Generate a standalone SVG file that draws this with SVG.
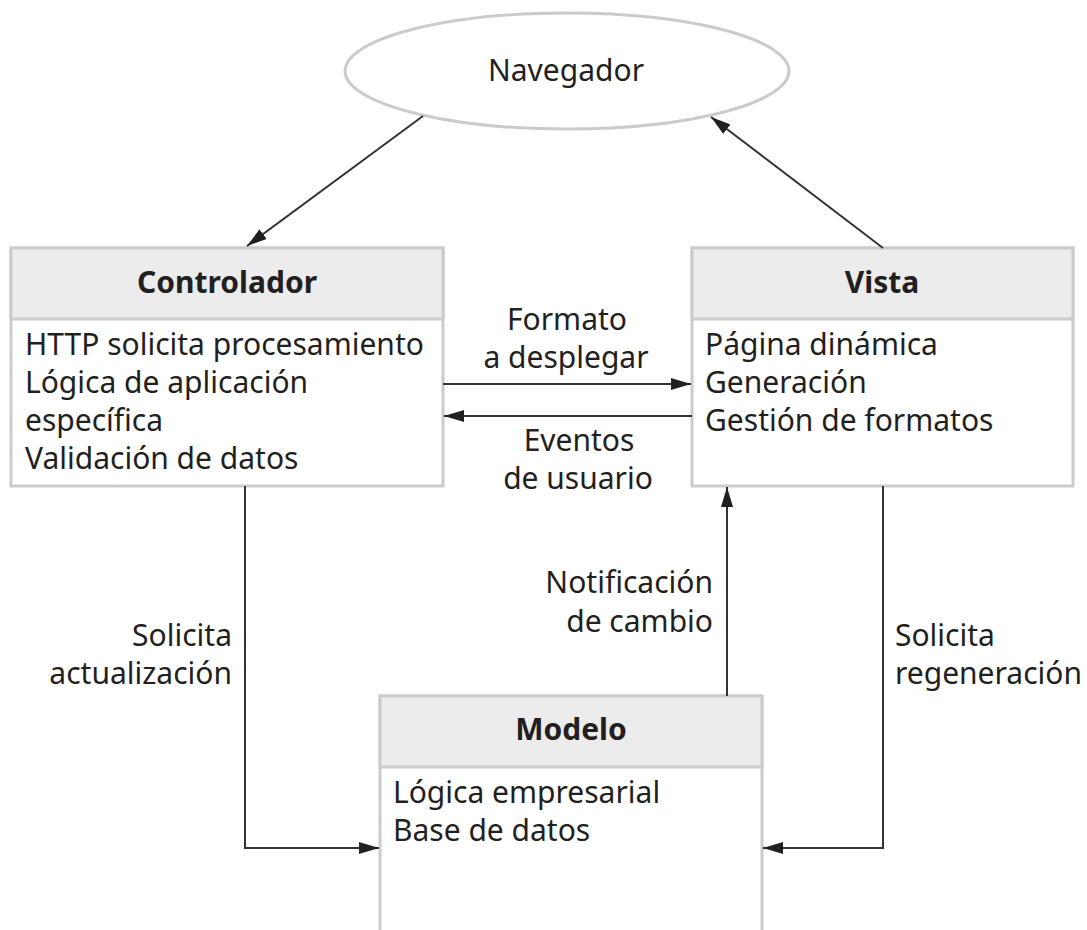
<svg xmlns="http://www.w3.org/2000/svg" width="1087" height="930" viewBox="0 0 1087 930">
<style>
  .box { fill: #ffffff; stroke: #cbcbcb; stroke-width: 3; }
  .hdr { fill: #ececec; stroke: #cbcbcb; stroke-width: 3; }
  .t { font-family: "Noto Sans", "Open Sans", sans-serif; font-size: 30px; fill: #231f20; }
  .b { font-weight: bold; }
  .c { text-anchor: middle; }
  .e { text-anchor: end; }
  .ln { fill: none; stroke: #333333; stroke-width: 2; }
</style>
<defs>
  <marker id="ah" markerUnits="userSpaceOnUse" markerWidth="20" markerHeight="12" refX="20" refY="6" orient="auto">
    <path d="M0,0 L20,6 L0,12 Z" fill="#231f20"/>
  </marker>
</defs>
<rect width="1087" height="930" fill="#ffffff"/>

<g id="navegador">
  <ellipse cx="567" cy="71" rx="222" ry="58" fill="#ffffff" stroke="#cbcbcb" stroke-width="3"/>
  <text class="t c" x="566" y="81">Navegador</text>
</g>

<g id="controlador">
  <rect class="box" x="11" y="248" width="432" height="238"/>
  <rect class="hdr" x="11" y="248" width="432" height="71"/>
  <text class="t b c" x="227" y="293">Controlador</text>
  <text class="t" x="25" y="355">HTTP solicita procesamiento</text>
  <text class="t" x="25" y="393">Lógica de aplicación</text>
  <text class="t" x="25" y="431">específica</text>
  <text class="t" x="25" y="469">Validación de datos</text>
</g>

<g id="vista">
  <rect class="box" x="692" y="248" width="381" height="238"/>
  <rect class="hdr" x="692" y="248" width="381" height="71"/>
  <text class="t b c" x="882" y="293">Vista</text>
  <text class="t" x="705" y="355">Página dinámica</text>
  <text class="t" x="705" y="393">Generación</text>
  <text class="t" x="705" y="431">Gestión de formatos</text>
</g>

<g id="modelo">
  <rect class="box" x="380" y="696" width="382" height="260"/>
  <rect class="hdr" x="380" y="696" width="382" height="71"/>
  <text class="t b c" x="571" y="740">Modelo</text>
  <text class="t" x="393" y="803">Lógica empresarial</text>
  <text class="t" x="393" y="841">Base de datos</text>
</g>

<g id="connectors">
  <line class="ln" x1="423" y1="116" x2="247" y2="246" marker-end="url(#ah)"/>
  <line class="ln" x1="883" y1="248" x2="711" y2="117" marker-end="url(#ah)"/>
  <line class="ln" x1="443" y1="384" x2="691" y2="384" marker-end="url(#ah)"/>
  <line class="ln" x1="692" y1="416" x2="444" y2="416" marker-end="url(#ah)"/>
  <line class="ln" x1="727" y1="696" x2="727" y2="487" marker-end="url(#ah)"/>
  <polyline class="ln" points="245,486 245,848 379,848" marker-end="url(#ah)"/>
  <polyline class="ln" points="883,486 883,848 763,848" marker-end="url(#ah)"/>
</g>

<g id="labels">
  <text class="t c" x="567" y="330">Formato</text>
  <text class="t c" x="566" y="368">a desplegar</text>
  <text class="t c" x="579" y="451">Eventos</text>
  <text class="t c" x="578" y="489">de usuario</text>
  <text class="t e" x="713" y="593">Notificación</text>
  <text class="t e" x="713" y="632">de cambio</text>
  <text class="t e" x="232" y="646">Solicita</text>
  <text class="t e" x="232" y="684">actualización</text>
  <text class="t" x="895" y="646">Solicita</text>
  <text class="t" x="895" y="684">regeneración</text>
</g>
</svg>
